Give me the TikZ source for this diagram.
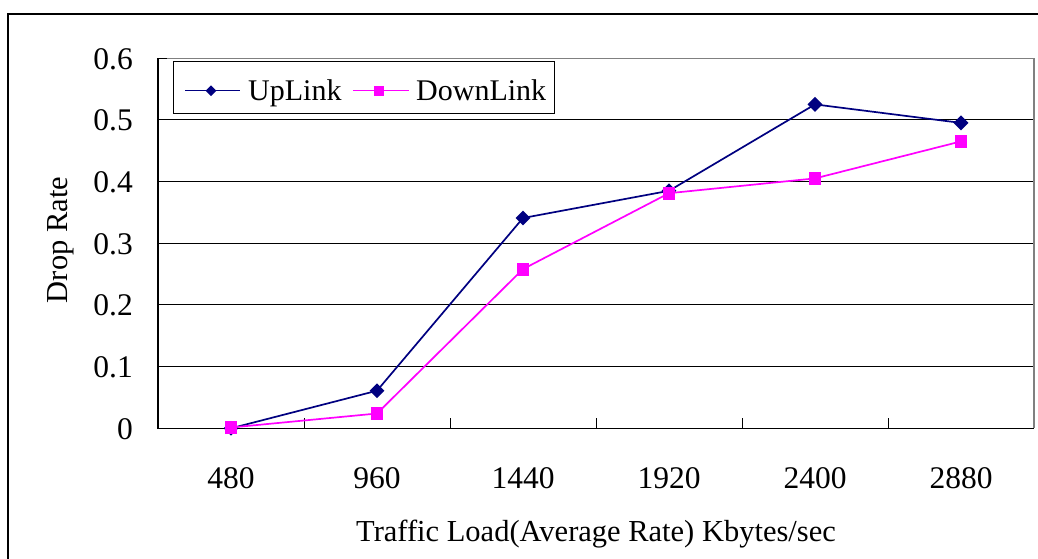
\documentclass[tikz,border=0pt]{standalone}
\usepackage{fontspec}
\setmainfont{Liberation Serif}
\usetikzlibrary{shapes.geometric}
\definecolor{upcol}{RGB}{0,0,128}
\definecolor{downcol}{RGB}{255,0,255}
\definecolor{framegray}{RGB}{128,128,128}
\tikzset{
  upmark/.style={diamond, fill=upcol, draw=none, inner sep=0pt, minimum width=15pt, minimum height=15pt},
  downmark/.style={rectangle, fill=downcol, draw=none, inner sep=0pt, minimum size=12.5pt},
  upsmall/.style={upmark, minimum width=11pt, minimum height=11pt},
  downsmall/.style={downmark, minimum size=10pt},
  upline/.style={draw=upcol, line width=1.7pt},
  downline/.style={draw=downcol, line width=1.7pt},
  grid line/.style={draw=black, line width=0.9pt},
  ticklabel/.style={font=\fontsize{31.5}{36}\selectfont, inner sep=0pt},
  titlelabel/.style={font=\fontsize{30.5}{36}\selectfont, inner sep=0pt},
  legendtext/.style={font=\fontsize{30}{34}\selectfont, inner sep=0pt, anchor=base west}
}
\begin{document}
\begin{tikzpicture}[x=1pt,y=-1pt]
\useasboundingbox (0,0) rectangle (1038,559);
\fill[white] (0,0) rectangle (1038,559);

% outer chart frame (runs off the right and bottom)
\draw[line width=2pt] (8,559) -- (8,14) -- (1038,14);

% horizontal grid lines 0.1 .. 0.5
\foreach \v in {0.1,0.2,0.3,0.4,0.5}
  \draw[grid line] (158,{428.3-617*\v}) -- (1034,{428.3-617*\v});

% plot area border: top and right in gray
\draw[framegray, line width=1.2pt] (158,58.3) -- (1034,58.3) -- (1034,428.3);

% axes
\draw[line width=1.2pt] (158,58.3) -- (158,428.3) -- (1034,428.3);
\draw[line width=1pt] (158,58.3) -- (167,58.3);
\foreach \x in {304,450,596,742,888}
  \draw[line width=1pt] (\x,428.3) -- (\x,418);

% y tick labels
\foreach \v/\t in {0/0,0.1/0.1,0.2/0.2,0.3/0.3,0.4/0.4,0.5/0.5,0.6/0.6}
  \node[ticklabel, anchor=east] (yl\t) at (133,{429-617*\v}) {\t};

% x tick labels
\foreach \x/\t in {231/480,377/960,523/1440,669/1920,815/2400,961/2880}
  \node[ticklabel, anchor=center] (xl\t) at (\x,478) {\t};

% axis titles
\node[titlelabel, rotate=90] (ytitle) at (61,240) {Drop Rate};
\node[titlelabel] (xtitle) at (596,534) {Traffic Load(Average Rate) Kbytes/sec};

% UpLink series
\node[upmark] (u1) at (231,428.3) {};
\node[upmark] (u2) at (377,390.7) {};
\node[upmark] (u3) at (523,218.0) {};
\node[upmark] (u4) at (669,190.8) {};
\node[upmark] (u5) at (815,104.4) {};
\node[upmark] (u6) at (961,122.9) {};
\draw[upline] (u1.center) -- (u2.center) -- (u3.center) -- (u4.center) -- (u5.center) -- (u6.center);

% DownLink series
\node[downmark] (d1) at (231,427.5) {};
\node[downmark] (d2) at (377,413.5) {};
\node[downmark] (d3) at (523,269.1) {};
\node[downmark] (d4) at (669,193.2) {};
\node[downmark] (d5) at (815,178.4) {};
\node[downmark] (d6) at (961,141.4) {};
\draw[downline] (d1.center) -- (d2.center) -- (d3.center) -- (d4.center) -- (d5.center) -- (d6.center);
\foreach \n in {d1,d2,d3,d4,d5,d6}
  \fill[downcol] (\n.south west) rectangle (\n.north east);

% legend
\node[draw=black, fill=white, line width=1pt, minimum width=381pt, minimum height=52pt, inner sep=0pt] (legend) at (363.5,88) {};
\coordinate (la1) at (185,90.7);
\coordinate (la2) at (240,90.7);
\draw[upline, line width=1.5pt] (la1) -- (la2);
\node[upsmall] (lu) at (211,90.7) {};
\node[legendtext] (lut) at (248,101) {UpLink};
\coordinate (lb1) at (353,90.7);
\coordinate (lb2) at (409,90.7);
\draw[downline, line width=1.5pt] (lb1) -- (lb2);
\node[downsmall] (ld) at (379,90.7) {};
\node[legendtext] (ldt) at (416,101) {DownLink};
\end{tikzpicture}
\end{document}
